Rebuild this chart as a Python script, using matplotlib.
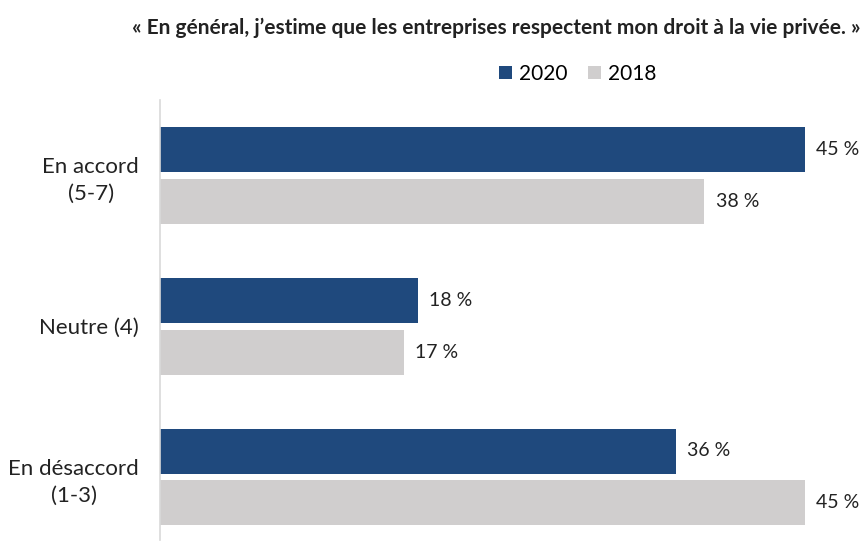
import matplotlib
matplotlib.use('Agg')
import matplotlib.pyplot as plt
import numpy as np

plt.rcParams['font.family'] = ['Lato', 'DejaVu Sans']

categories = ['En accord\n(5-7)', 'Neutre (4)', 'En désaccord\n(1-3)']
values_2020 = [45, 18, 36]
values_2018 = [38, 17, 45]
series_names = ['2020', '2018']
title = '« En général, j\u2019estime que les entreprises respectent mon droit à la vie privée. »'

blue = '#1F497D'
grey = '#D0CECE'

fig = plt.figure(figsize=(8.65, 5.45), dpi=100)
ax = fig.add_axes([160 / 865, 5 / 545, 702 / 865, 440 / 545])

y = np.arange(len(categories))
h = 45 / 151
off = 26 / 151
bars20 = ax.barh(y - off, values_2020, height=h, color=blue, label=series_names[0])
bars18 = ax.barh(y + off, values_2018, height=h, color=grey, label=series_names[1])

for bars in (bars20, bars18):
    for b in bars:
        ax.text(b.get_width() + 0.8, b.get_y() + b.get_height() / 2,
                f'{int(b.get_width())} %', va='center', ha='left',
                fontsize=14, color='#222222')

ax.set_xlim(0, 49)
ax.set_ylim((540 - 175) / 151, (100 - 175) / 151)
ax.set_yticks(y)
ax.set_yticklabels(categories, fontsize=16, color='#222222', ha='right',
                   multialignment='center', linespacing=1.4)
ax.tick_params(axis='y', length=0, pad=15)
ax.set_xticks([])
for s in ['top', 'right', 'bottom']:
    ax.spines[s].set_visible(False)
ax.spines['left'].set_color('#D9D9D9')
ax.spines['left'].set_linewidth(1.2)

fig.text(496 / 865, 1 - 28 / 545, title, ha='center', va='center',
         fontsize=15, fontweight='bold', color='#222222')

fig.legend(handles=[bars20, bars18], labels=series_names, loc='center',
           bbox_to_anchor=(578 / 865, 1 - 74 / 545), ncol=2, frameon=False,
           fontsize=15, handlelength=0.6, handleheight=0.6, handletextpad=0.35,
           columnspacing=1.0)

fig.savefig('out.png', dpi=100)
